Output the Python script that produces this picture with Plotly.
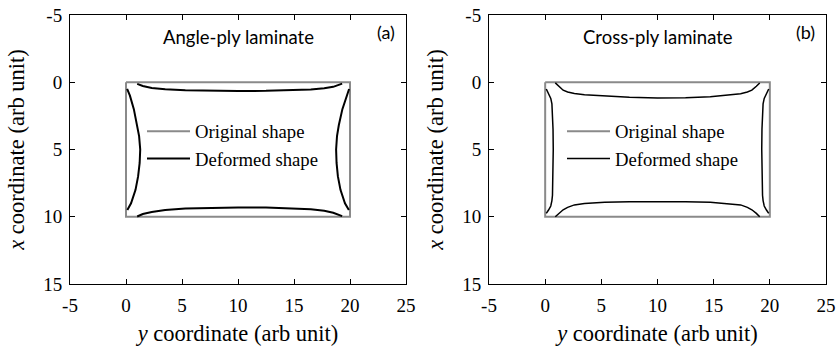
import plotly.graph_objects as go

# ---------------- data ----------------
# Original (undeformed) rectangle, y (horizontal) and x (vertical, downward)
orig_y = [0, 20, 20, 0, 0]
orig_x = [0, 0, 10, 10, 0]

# Angle-ply laminate deformed shape: four edge curves
ap_top_y = [1.0, 1.5, 2.3, 3.5, 5.3, 7.5, 10.0, 12.5, 14.7, 16.5, 17.7, 18.5, 19.3]
ap_top_x = [0.12, 0.28, 0.42, 0.52, 0.59, 0.63, 0.65, 0.64, 0.60, 0.54, 0.45, 0.34, 0.10]
ap_bot_y = [1.0, 1.5, 2.3, 3.5, 5.3, 7.5, 10.0, 12.5, 14.7, 16.5, 17.7, 18.5, 19.3]
ap_bot_x = [9.98, 9.80, 9.65, 9.50, 9.38, 9.33, 9.31, 9.32, 9.36, 9.44, 9.55, 9.70, 9.95]
ap_left_x = [0.50, 1.0, 2.0, 3.2, 4.0, 5.0, 6.0, 7.0, 8.0, 9.0, 9.5]
ap_left_y = [0.10, 0.35, 0.70, 1.00, 1.17, 1.27, 1.22, 1.08, 0.85, 0.45, 0.12]
ap_right_x = [0.50, 1.0, 2.0, 3.2, 4.0, 5.0, 6.0, 7.0, 8.0, 9.0, 9.5]
ap_right_y = [19.92, 19.70, 19.32, 19.00, 18.84, 18.76, 18.80, 18.92, 19.15, 19.55, 19.90]

# Cross-ply laminate deformed shape
cp_top_y = [0.9, 1.2, 1.6, 2.0, 2.6, 3.5, 5.3, 7.5, 10.0, 12.5, 14.7, 16.5, 17.4, 18.0, 18.4, 18.8, 19.1]
cp_top_x = [0.05, 0.30, 0.59, 0.72, 0.84, 0.93, 1.03, 1.12, 1.18, 1.16, 1.08, 0.95, 0.85, 0.72, 0.59, 0.30, 0.05]
cp_bot_y = [0.9, 1.2, 1.6, 2.0, 2.6, 3.5, 5.3, 7.5, 10.0, 12.5, 14.7, 16.5, 17.4, 18.0, 18.4, 18.8, 19.1]
cp_bot_x = [10.0, 9.75, 9.48, 9.30, 9.12, 9.02, 8.92, 8.88, 8.87, 8.88, 8.92, 9.02, 9.12, 9.30, 9.48, 9.75, 10.0]
cp_left_x = [0.50, 0.80, 1.20, 1.60, 2.5, 3.5, 5.0, 6.5, 7.5, 8.4, 8.8, 9.2, 9.5, 9.75]
cp_left_y = [0.10, 0.30, 0.50, 0.60, 0.67, 0.70, 0.72, 0.71, 0.69, 0.65, 0.60, 0.50, 0.30, 0.10]
cp_right_x = [0.50, 0.80, 1.20, 1.60, 2.5, 3.5, 5.0, 6.5, 7.5, 8.4, 8.8, 9.2, 9.5, 9.75]
cp_right_y = [19.90, 19.70, 19.50, 19.40, 19.33, 19.30, 19.28, 19.29, 19.31, 19.35, 19.40, 19.50, 19.70, 19.90]

x_tick_vals = [-5, 0, 5, 10, 15, 20, 25]
x_tick_text = ["-5", "0", "5", "10", "15", "20", "25"]
y_tick_vals = [-5, 0, 5, 10, 15]
y_tick_text = ["-5", "0", "5", "10", "15"]
panel_titles = ["Angle-ply laminate", "Cross-ply laminate"]
panel_labels = ["(a)", "(b)"]

# ---------------- figure ----------------
W, H = 836, 350
fig = go.Figure()

def join(*segs):
    ys, xs = [], []
    for sy, sx in segs:
        ys += list(sy) + [None]
        xs += list(sx) + [None]
    return ys, xs

ap_y, ap_x = join((ap_top_y, ap_top_x), (ap_bot_y, ap_bot_x),
                  (ap_left_y, ap_left_x), (ap_right_y, ap_right_x))
cp_y, cp_x = join((cp_top_y, cp_top_x), (cp_bot_y, cp_bot_x),
                  (cp_left_y, cp_left_x), (cp_right_y, cp_right_x))

GRAY = "#8a8a8a"
serif = "Liberation Serif"
sans = "Lato"

for i, (dy, dx, lw, leg) in enumerate([(ap_y, ap_x, 2.0, "legend"), (cp_y, cp_x, 1.5, "legend2")]):
    xa = "x" if i == 0 else "x2"
    ya = "y" if i == 0 else "y2"
    fig.add_trace(go.Scatter(x=orig_y, y=orig_x, mode="lines", name="Original shape",
                             line=dict(color=GRAY, width=2), xaxis=xa, yaxis=ya,
                             legend=leg, legendgroup="o"))
    fig.add_trace(go.Scatter(x=dy, y=dx, mode="lines", name="Deformed shape",
                             line=dict(color="black", width=lw), xaxis=xa, yaxis=ya,
                             legend=leg, legendgroup="d", connectgaps=False))

doms_x = [(70 / W, 406 / W), (489 / W, 826 / W)]
dom_y = (1 - 284 / H, 1 - 15 / H)

def xax(dom, anchor):
    return dict(domain=dom, anchor=anchor, range=[-5, 25], tickvals=x_tick_vals,
                ticktext=x_tick_text, automargin=False, ticklabelstandoff=4,
                ticks="inside", ticklen=5, tickcolor="black", showline=True,
                linecolor="black", linewidth=1, mirror="ticks", showgrid=False,
                zeroline=False, tickfont=dict(family=serif, size=19, color="black"),
                title=dict(text="<i>y</i> coordinate (arb unit)",
                           font=dict(family=serif, size=22.5, color="black"), standoff=10))

def yax(anchor):
    return dict(domain=dom_y, anchor=anchor, range=[15, -5], tickvals=y_tick_vals,
                ticktext=y_tick_text, automargin=False, ticklabelstandoff=3,
                ticks="inside", ticklen=5, tickcolor="black", showline=True,
                linecolor="black", linewidth=1, mirror="ticks", showgrid=False,
                zeroline=False, tickfont=dict(family=serif, size=19, color="black"),
                title=dict(text="<i>x</i> coordinate (arb unit)",
                           font=dict(family=serif, size=22.5, color="black"), standoff=12))

legend_common = dict(font=dict(family=serif, size=18.7, color="black"),
                     bgcolor="rgba(0,0,0,0)", borderwidth=0, tracegroupgap=0,
                     itemwidth=43, xanchor="left", yanchor="top", traceorder="grouped")

fig.update_layout(
    width=W, height=H, margin=dict(l=0, r=0, t=0, b=0),
    font=dict(family=serif, color="black"),
    paper_bgcolor="white", plot_bgcolor="white", showlegend=True,
    xaxis=xax(doms_x[0], "y"), yaxis=yax("x"),
    xaxis2=xax(doms_x[1], "y2"), yaxis2=yax("x2"),
    legend=dict(x=142 / W, y=1 - 112.5 / H, **legend_common),
    legend2=dict(x=562 / W, y=1 - 112.5 / H, **legend_common),
)

for i, (xa, ya) in enumerate([("x", "y"), ("x2", "y2")]):
    fig.add_annotation(x=10, y=-3.36, xref=xa, yref=ya, text=panel_titles[i],
                       showarrow=False, font=dict(family=sans, size=18.5, color="black"))
    fig.add_annotation(x=23.2, y=-3.7, xref=xa, yref=ya, text=panel_labels[i],
                       showarrow=False, font=dict(family=sans, size=18, color="black"))

fig.write_html("out.html", config={"displayModeBar": False},
               post_script="document.body.style.margin='0';")
